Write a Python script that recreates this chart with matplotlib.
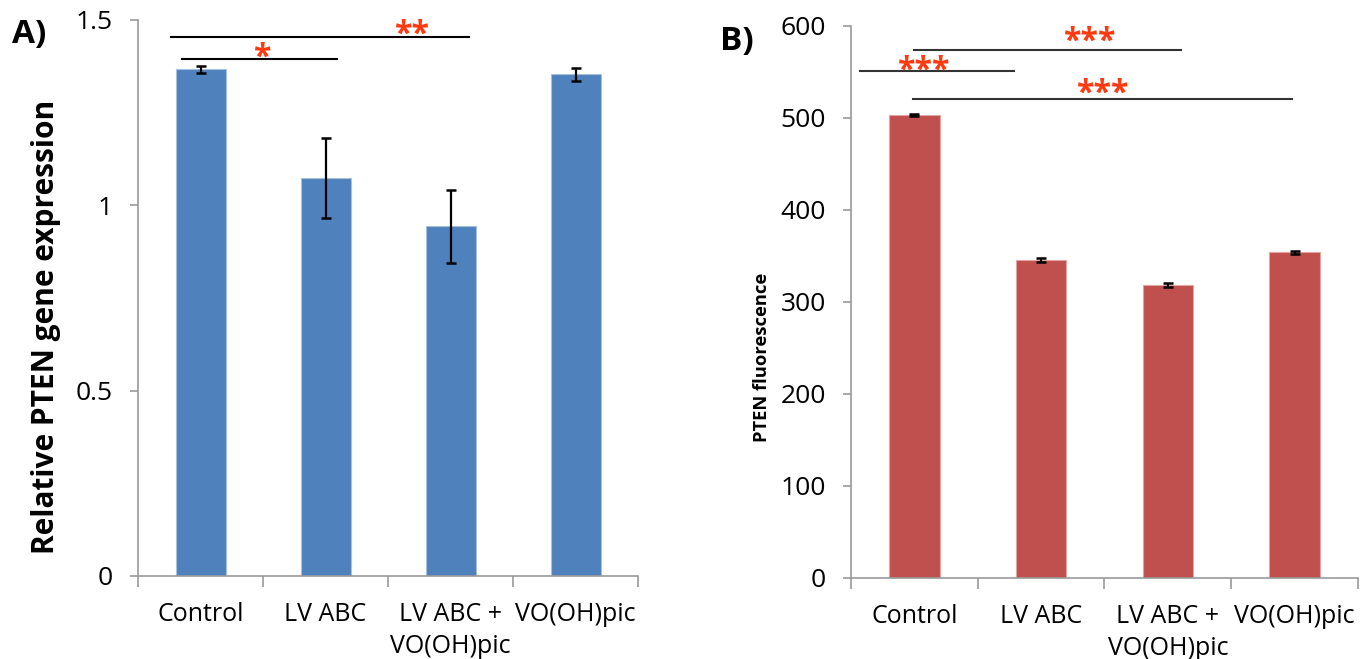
import matplotlib
matplotlib.use("Agg")
import matplotlib.pyplot as plt
import numpy as np

plt.rcParams['font.family'] = ['Open Sans', 'DejaVu Sans']

groups = ['Control', 'LV ABC', 'LV ABC +\nVO(OH)pic', 'VO(OH)pic']

# panel A: relative PTEN gene expression
expr = [1.367, 1.074, 0.943, 1.353]
expr_err = [0.009, 0.107, 0.099, 0.018]

# panel B: PTEN fluorescence
fluo = [502.5, 345.0, 317.8, 353.7]
fluo_err = [1.0, 2.0, 2.0, 1.5]

# significance brackets: (x start, x end, y, label, label x, label y)
sig_a = [(-0.24, 2.15, 1.454, '**', 1.69, 1.458),
         (-0.15, 1.09, 1.395, '*', 0.49, 1.397)]
sig_b = [(0.0, 2.10, 574, '***', 1.38, 582),
         (-0.43, 0.79, 551, '***', 0.07, 550),
         (-0.01, 2.98, 520, '***', 1.48, 526)]

grey = '#9a9a9a'
star_red = '#ff3a10'

fig = plt.figure(figsize=(13.71, 6.59), dpi=100)
ax1 = fig.add_axes([0.1007, 0.126, 0.3647, 0.8437])
ax2 = fig.add_axes([0.6207, 0.1234, 0.3698, 0.8376])

x = np.arange(len(groups))


def style(ax, ylim, yticks, yticklabels):
    ax.set_xlim(-0.5, 3.5)
    ax.set_ylim(*ylim)
    ax.set_yticks(yticks)
    ax.set_yticklabels(yticklabels)
    ax.spines['top'].set_visible(False)
    ax.spines['right'].set_visible(False)
    for s in ['left', 'bottom']:
        ax.spines[s].set_color(grey)
        ax.spines[s].set_linewidth(1.2)
    ax.set_xticks(x)
    ax.set_xticklabels(groups, fontsize=18, linespacing=1.35, va='top')
    ax.set_xticks(np.arange(-0.5, 4.0, 1.0), minor=True)
    ax.tick_params(axis='x', which='major', length=0, pad=19)
    ax.tick_params(axis='x', which='minor', length=8, color=grey, width=1.2)
    ax.tick_params(axis='y', length=6, color=grey, width=1.2, labelsize=19, pad=12)


ax1.bar(x, expr, width=0.4, color='#4f81bd', edgecolor='#a7c0de', linewidth=0.8,
        yerr=expr_err, error_kw=dict(ecolor='black', elinewidth=1.6, capsize=3.5, capthick=1.8))
style(ax1, (0, 1.5), [0, 0.5, 1, 1.5], ['0', '0.5', '1', '1.5'])
ax1.set_ylabel('Relative PTEN gene expression', fontsize=21.5, fontweight='bold')
ax1.yaxis.set_label_coords(-0.155, 0.448)
for x0, x1, y, lab, lx, ly in sig_a:
    ax1.plot([x0, x1], [y, y], color='black', lw=1.5, clip_on=False)
    ax1.text(lx, ly, lab, color=star_red, fontsize=23, fontweight='bold',
             ha='center', va='center')

ax2.bar(x, fluo, width=0.4, color='#c0504d', edgecolor='#e0a5a3', linewidth=0.8,
        yerr=fluo_err, error_kw=dict(ecolor='black', elinewidth=1.5, capsize=3.5, capthick=1.8))
style(ax2, (0, 600), [0, 100, 200, 300, 400, 500, 600],
      ['0', '100', '200', '300', '400', '500', '600'])
ax2.set_ylabel('PTEN fluorescence', fontsize=13.2, fontweight='bold')
ax2.yaxis.set_label_coords(-0.158, 0.40)
for x0, x1, y, lab, lx, ly in sig_b:
    ax2.plot([x0, x1], [y, y], color='#333333', lw=1.5, clip_on=False)
    ax2.text(lx, ly, lab, color=star_red, fontsize=23, fontweight='bold',
             ha='center', va='center')

fig.text(0.009, 0.948, 'A)', fontsize=24, fontweight='bold', va='center')
fig.text(0.525, 0.937, 'B)', fontsize=24, fontweight='bold', va='center')

fig.savefig('out.png', dpi=100)
